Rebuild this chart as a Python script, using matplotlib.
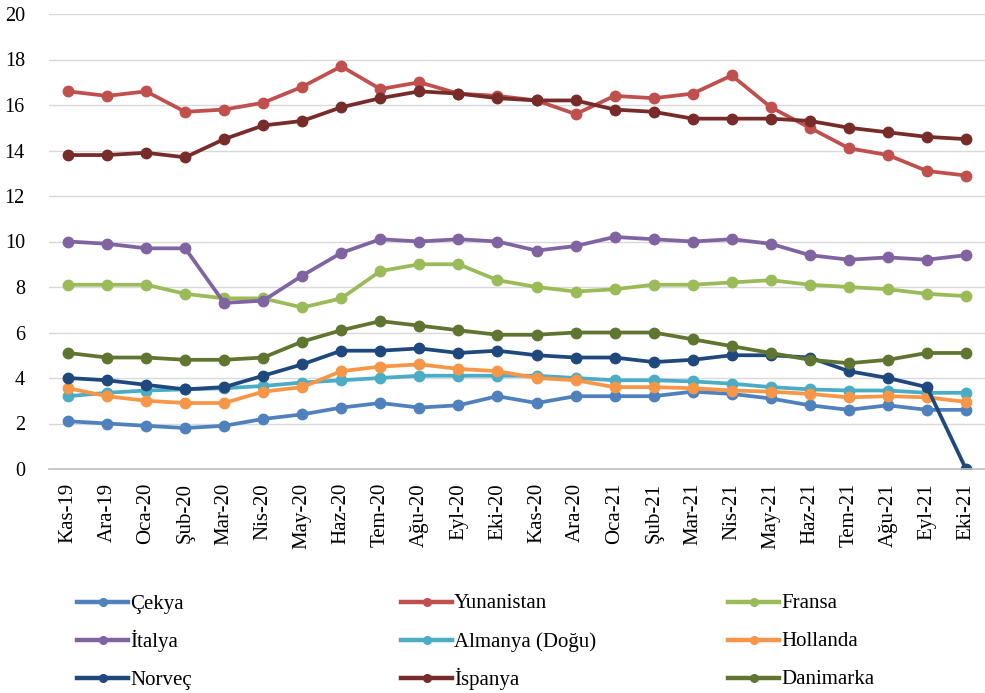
import matplotlib
matplotlib.use('Agg')
import matplotlib.pyplot as plt
from matplotlib.lines import Line2D
import numpy as np

plt.rcParams['font.family'] = ['Liberation Serif', 'DejaVu Serif']

# Aylar
months = ['Kas-19', 'Ara-19', 'Oca-20', 'Şub-20', 'Mar-20', 'Nis-20', 'May-20', 'Haz-20',
          'Tem-20', 'Ağu-20', 'Eyl-20', 'Eki-20', 'Kas-20', 'Ara-20', 'Oca-21', 'Şub-21',
          'Mar-21', 'Nis-21', 'May-21', 'Haz-21', 'Tem-21', 'Ağu-21', 'Eyl-21', 'Eki-21']

# Ülke serileri
cekya = [2.1, 2.0, 1.9, 1.8, 1.9, 2.2, 2.4, 2.7, 2.9, 2.7, 2.8, 3.2,
         2.9, 3.2, 3.2, 3.2, 3.4, 3.3, 3.1, 2.8, 2.6, 2.8, 2.6, 2.6]
yunanistan = [16.6, 16.4, 16.6, 15.7, 15.8, 16.1, 16.8, 17.7, 16.7, 17.0, 16.5, 16.4,
              16.2, 15.6, 16.4, 16.3, 16.5, 17.3, 15.9, 15.0, 14.1, 13.8, 13.1, 12.9]
fransa = [8.1, 8.1, 8.1, 7.7, 7.5, 7.5, 7.1, 7.5, 8.7, 9.0, 9.0, 8.3,
          8.0, 7.8, 7.9, 8.1, 8.1, 8.2, 8.3, 8.1, 8.0, 7.9, 7.7, 7.6]
italya = [10.0, 9.9, 9.7, 9.7, 7.3, 7.4, 8.5, 9.5, 10.1, 10.0, 10.1, 10.0,
          9.6, 9.8, 10.2, 10.1, 10.0, 10.1, 9.9, 9.4, 9.2, 9.3, 9.2, 9.4]
almanya = [3.2, 3.35, 3.45, 3.5, 3.55, 3.65, 3.8, 3.9, 4.0, 4.1, 4.1, 4.1,
           4.1, 4.0, 3.9, 3.9, 3.85, 3.75, 3.6, 3.5, 3.45, 3.45, 3.35, 3.35]
hollanda = [3.55, 3.2, 3.0, 2.9, 2.9, 3.4, 3.6, 4.3, 4.5, 4.6, 4.4, 4.3,
            4.0, 3.9, 3.6, 3.6, 3.55, 3.45, 3.4, 3.3, 3.15, 3.2, 3.15, 2.95]
norvec = [4.0, 3.9, 3.7, 3.5, 3.6, 4.1, 4.6, 5.2, 5.2, 5.3, 5.1, 5.2,
          5.0, 4.9, 4.9, 4.7, 4.8, 5.0, 5.0, 4.9, 4.3, 4.0, 3.6, 0.0]
ispanya = [13.8, 13.8, 13.9, 13.7, 14.5, 15.1, 15.3, 15.9, 16.3, 16.6, 16.5, 16.3,
           16.2, 16.2, 15.8, 15.7, 15.4, 15.4, 15.4, 15.3, 15.0, 14.8, 14.6, 14.5]
danimarka = [5.1, 4.9, 4.9, 4.8, 4.8, 4.9, 5.6, 6.1, 6.5, 6.3, 6.1, 5.9,
             5.9, 6.0, 6.0, 6.0, 5.7, 5.4, 5.1, 4.8, 4.65, 4.8, 5.1, 5.1]

names = ['Çekya', 'Yunanistan', 'Fransa', 'İtalya', 'Almanya (Doğu)', 'Hollanda',
         'Norveç', 'İspanya', 'Danimarka']
series = [cekya, yunanistan, fransa, italya, almanya, hollanda, norvec, ispanya, danimarka]
colors = ['#4F81BD', '#C0504D', '#9BBB59', '#8064A2', '#4BACC6', '#F79646',
          '#1F497D', '#772C2A', '#5F7530']

W, H = 985, 693
fig = plt.figure(figsize=(W / 100, H / 100), dpi=100)
ax = fig.add_axes([48.5 / W, 1 - 469 / H, 937 / W, 455 / H])

x = np.arange(len(months))
for vals, name, c in zip(series, names, colors):
    ax.plot(x, vals, color=c, lw=2.7, marker='o', markersize=7.5,
            label=name, solid_joinstyle='round')

ax.set_xlim(-0.5, len(months) - 0.5)
ax.set_ylim(0, 20)
ax.set_yticks(np.arange(0, 21, 2))
ax.set_xticks(x)
ax.set_xticklabels(months, rotation=90, fontsize=15)
ax.tick_params(axis='y', length=0, pad=17, labelsize=14.5)
ax.tick_params(axis='x', length=0, pad=10)
ax.grid(axis='y', color='#D9D9D9', lw=1)
ax.set_axisbelow(True)
for s in ['top', 'right', 'left']:
    ax.spines[s].set_visible(False)
ax.spines['bottom'].set_color('#BFBFBF')
ax.spines['bottom'].set_linewidth(1.2)

# Lejant: 3 sütun x 3 satır, satır sırası
col_x = [77, 401, 728]
row_y = [602, 640, 678]
for i, (name, c) in enumerate(zip(names, colors)):
    x0 = col_x[i % 3]
    yp = row_y[i // 3]
    y0 = 1 - yp / H
    fig.add_artist(Line2D([x0 / W, (x0 + 51) / W], [y0, y0], transform=fig.transFigure,
                          color=c, lw=3.2))
    fig.add_artist(Line2D([(x0 + 25.5) / W], [y0], transform=fig.transFigure,
                          color=c, marker='o', markersize=5.5, lw=0))
    fig.text((x0 + 53) / W, 1 - (yp + 6.5) / H, name, fontsize=15,
             va='baseline', ha='left')

fig.savefig('out.png', dpi=100)
